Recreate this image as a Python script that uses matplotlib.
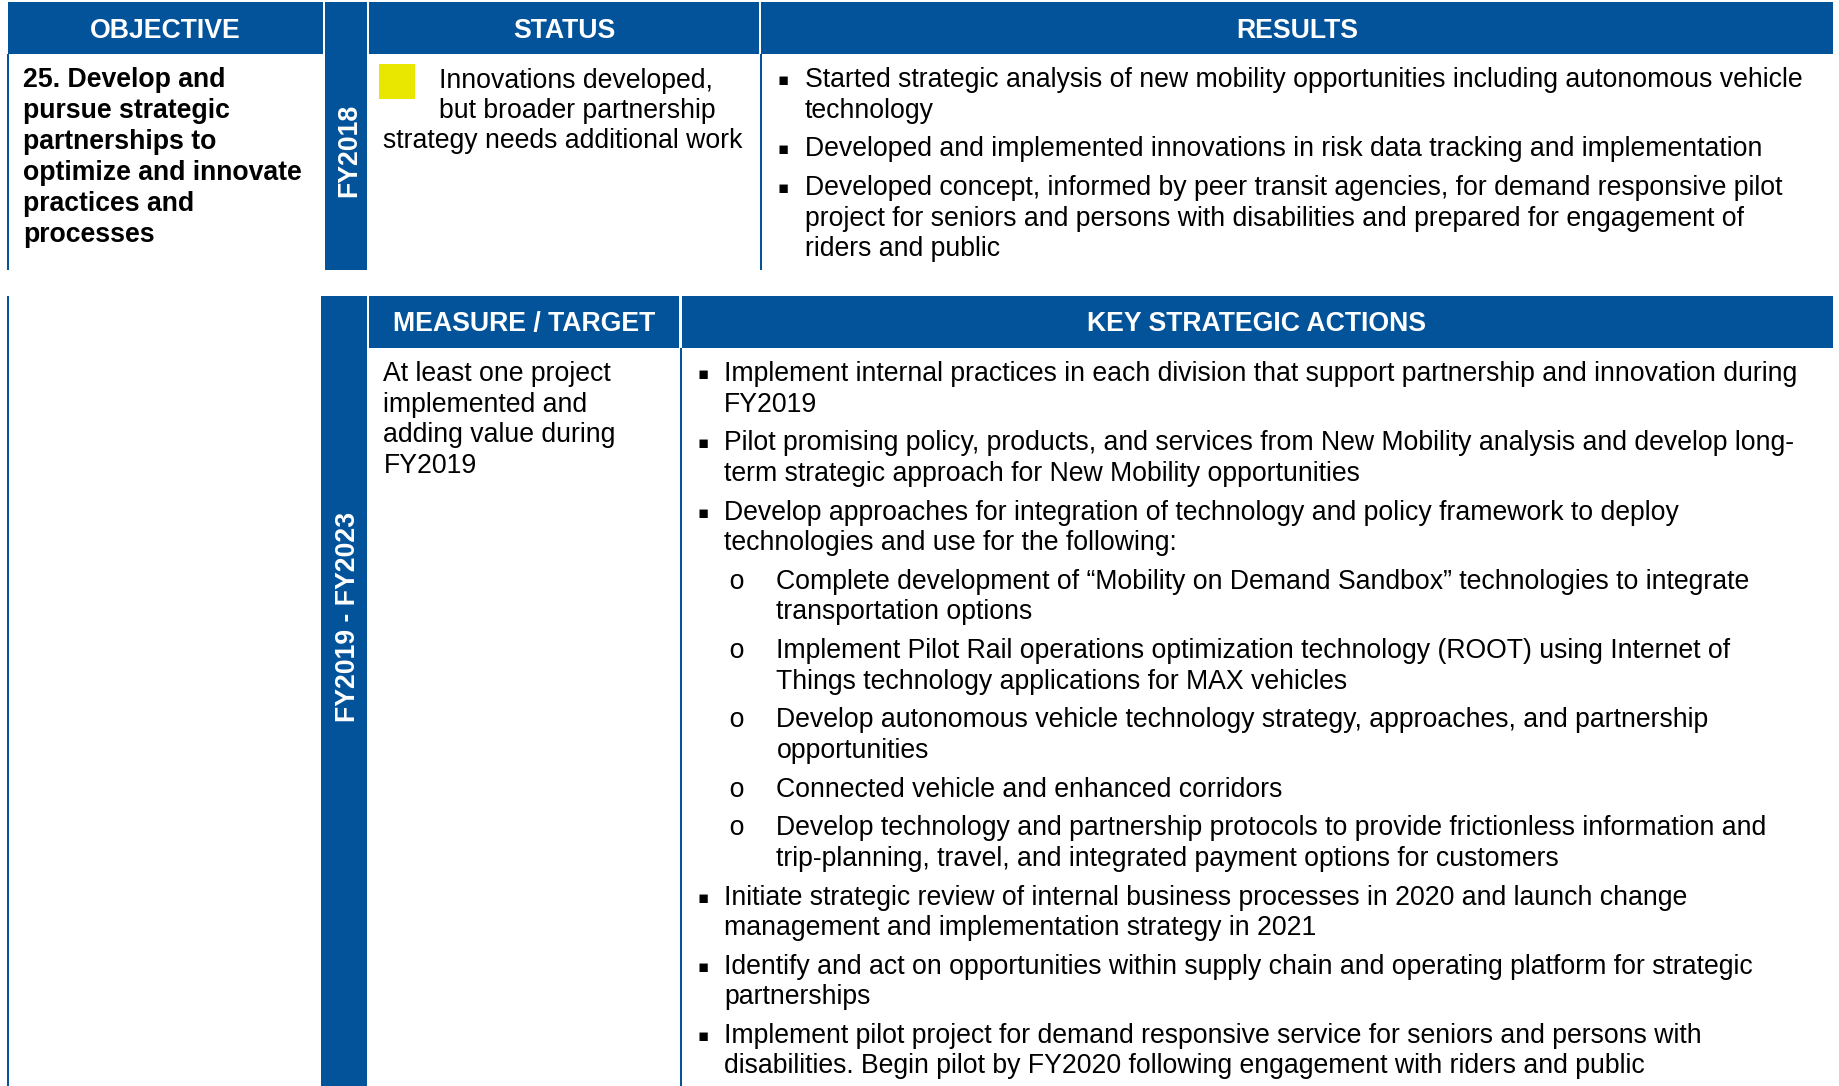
import matplotlib
matplotlib.use("Agg")
import matplotlib.pyplot as plt
from matplotlib.patches import Rectangle

# ---------------- content ----------------
headers_top = ["OBJECTIVE", "STATUS", "RESULTS"]
headers_bottom = ["MEASURE / TARGET", "KEY STRATEGIC ACTIONS"]
period_top = "FY2018"
period_bottom = "FY2019 - FY2023"

objective_lines = ["25. Develop and", "pursue strategic", "partnerships to",
                   "optimize and innovate", "practices and", "processes"]

status_color = "#E9E600"
status_lines = ["Innovations developed,", "but broader partnership",
                "strategy needs additional work"]

results = [
    ["Started strategic analysis of new mobility opportunities including autonomous vehicle",
     "technology"],
    ["Developed and implemented innovations in risk data tracking and implementation"],
    ["Developed concept, informed by peer transit agencies, for demand responsive pilot",
     "project for seniors and persons with disabilities and prepared for engagement of",
     "riders and public"],
]

measure_lines = ["At least one project", "implemented and",
                 "adding value during", "FY2019"]

# (level, lines) : level 0 = square bullet, 1 = "o" sub-bullet
actions = [
    (0, ["Implement internal practices in each division that support partnership and innovation during",
         "FY2019"]),
    (0, ["Pilot promising policy, products, and services from New Mobility analysis and develop long-",
         "term strategic approach for New Mobility opportunities"]),
    (0, ["Develop approaches for integration of technology and policy framework to deploy",
         "technologies and use for the following:"]),
    (1, ["Complete development of \u201cMobility on Demand Sandbox\u201d technologies to integrate",
         "transportation options"]),
    (1, ["Implement Pilot Rail operations optimization technology (ROOT) using Internet of",
         "Things technology applications for MAX vehicles"]),
    (1, ["Develop autonomous vehicle technology strategy, approaches, and partnership",
         "opportunities"]),
    (1, ["Connected vehicle and enhanced corridors"]),
    (1, ["Develop technology and partnership protocols to provide frictionless information and",
         "trip-planning, travel, and integrated payment options for customers"]),
    (0, ["Initiate strategic review of internal business processes in 2020 and launch change",
         "management and implementation strategy in 2021"]),
    (0, ["Identify and act on opportunities within supply chain and operating platform for strategic",
         "partnerships"]),
    (0, ["Implement pilot project for demand responsive service for seniors and persons with",
         "disabilities. Begin pilot by FY2020 following engagement with riders and public"]),
]

# ---------------- style ----------------
BLUE = "#02539A"
FS = 19.15
BULLET_FS = 12
FONT = ["Liberation Sans", "DejaVu Sans"]
plt.rcParams["font.family"] = FONT

W, H = 1839, 1086
fig = plt.figure(figsize=(W / 100, H / 100), dpi=100)
ax = fig.add_axes([0, 0, 1, 1])
ax.set_xlim(0, W)
ax.set_ylim(H, 0)
ax.axis("off")


def rect(x0, y0, x1, y1, color):
    ax.add_patch(Rectangle((x0, y0), x1 - x0, y1 - y0, facecolor=color,
                           edgecolor="none", lw=0))


def vline(x, y0, y1, lw=2.0):
    ax.plot([x, x], [y0, y1], color=BLUE, lw=lw * 0.72, solid_capstyle="butt")


def txt(x, y, s, **kw):
    d = dict(fontsize=FS, va="baseline", ha="left", color="black")
    d.update(kw)
    ax.text(x, y, s, **d)


def bullet(x, y):
    txt(x, y - 2, "\u25AA", family="DejaVu Sans", fontsize=BULLET_FS)


# ---------------- top section ----------------
top_y0, top_hdr, top_y1 = 2, 54, 270
rect(8, top_y0, 323, top_hdr, BLUE)
rect(325, top_y0, 367, top_y1, BLUE)
rect(369, top_y0, 759.5, top_hdr, BLUE)
rect(761.5, top_y0, 1833, top_hdr, BLUE)
vline(8.5, top_hdr, top_y1)
vline(761, top_hdr, top_y1)

hdr_base = 37.5
for s, cx in zip(headers_top, [165.5, 564, 1297]):
    txt(cx, hdr_base, s, ha="center", color="white", fontweight="bold")

ax.text(356, 150.5, period_top, rotation=90, rotation_mode="anchor",
        ha="center", va="baseline", color="white", fontweight="bold", fontsize=FS)

for i, s in enumerate(objective_lines):
    txt(23, 87.3 + i * 30.85, s, fontweight="bold")

rect(379, 64, 415, 99, status_color)
for i, s in enumerate(status_lines):
    txt(438.6 if i < 2 else 383.5, 88 + i * 30.2, s)

LINE, PARA = 30.4, 38.8
y = 87.3
for para in results:
    bullet(778, y)
    for j, s in enumerate(para):
        txt(805, y + j * LINE, s)
    y += (len(para) - 1) * LINE + PARA

# ---------------- bottom section ----------------
bot_y0, bot_hdr = 296, 348
rect(321, bot_y0, 367, H + 5, BLUE)
rect(369, bot_y0, 679.5, bot_hdr, BLUE)
rect(682, bot_y0, 1833, bot_hdr, BLUE)
vline(8.5, bot_y0, H + 5)
vline(681, bot_hdr, H + 5)

hdr_base2 = 331
for s, cx in zip(headers_bottom, [524, 1257]):
    txt(cx, hdr_base2, s, ha="center", color="white", fontweight="bold")

ax.text(355, 617, period_bottom, rotation=90, rotation_mode="anchor",
        ha="center", va="baseline", color="white", fontweight="bold", fontsize=FS)

for i, s in enumerate(measure_lines):
    txt(383.5, 381.3 + i * 30.5, s)

y = 381.3
for level, para in actions:
    if level == 0:
        bullet(697.5, y)
        tx = 724
    else:
        txt(728, y, "o", family="Liberation Mono", fontsize=FS)
        tx = 776.5
    for j, s in enumerate(para):
        txt(tx, y + j * LINE, s)
    y += (len(para) - 1) * LINE + PARA

fig.savefig("out.png", dpi=100, facecolor="white")
